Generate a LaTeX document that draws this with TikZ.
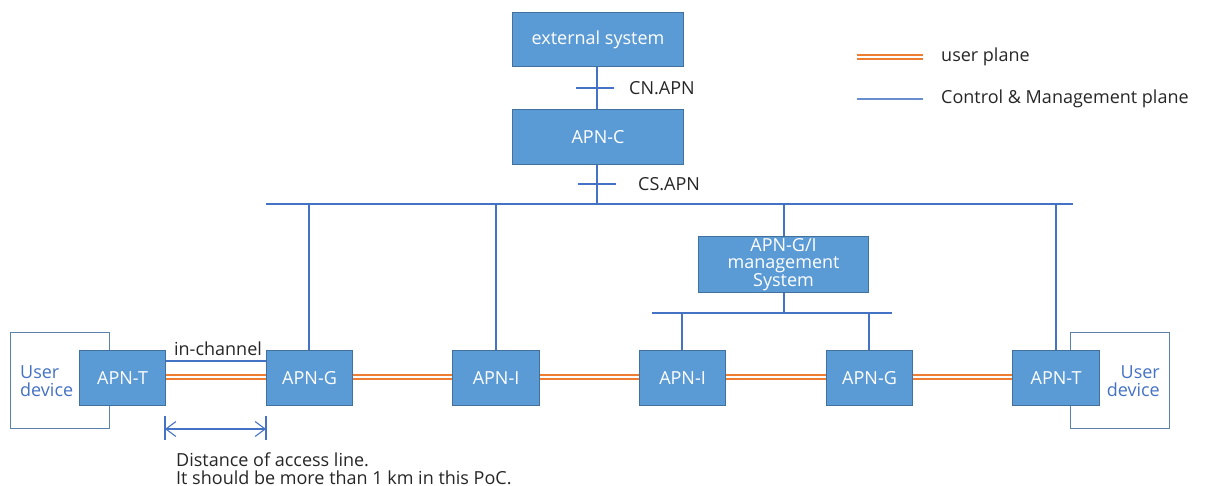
\documentclass[tikz,border=0pt]{standalone}
\usepackage{fontspec}
\setmainfont{Open Sans}
\usetikzlibrary{arrows.meta}
\definecolor{boxfill}{HTML}{5B9BD5}
\definecolor{boxline}{HTML}{41719C}
\definecolor{ctl}{HTML}{4472C4}
\definecolor{up}{HTML}{ED7D31}
\definecolor{devline}{HTML}{5A82AE}
\newcommand{\fs}{\fontsize{18}{21}\selectfont}
\begin{document}
\begin{tikzpicture}[x=1pt,y=-1pt,
  apn/.style={draw=boxline,fill=boxfill,line width=1.1pt,text=white,font=\fs,align=center,inner sep=0pt},
  ctlline/.style={draw=ctl,line width=1.1pt},
  upline/.style={draw=up,double=white,line width=2pt,double distance=2.6pt},
  lbl/.style={font=\fs,text=black!85,inner sep=0pt},
  dev/.style={draw=devline,line width=1.2pt,fill=white}]
\useasboundingbox (0,0) rectangle (1212,486);
% user device boxes (behind)
\node[dev,minimum width=99pt,minimum height=96pt,anchor=north west] (udl) at (10,332) {};
\node[dev,minimum width=99pt,minimum height=96pt,anchor=north west] (udr) at (1070,332) {};
\node[text=ctl,font=\fontsize{18}{18}\selectfont,align=left,anchor=west,inner sep=0pt] (udlt) at (20,381) {User\\device};
\node[text=ctl,font=\fontsize{18}{18}\selectfont,align=right,anchor=east,inner sep=0pt] (udrt) at (1160,381) {User\\device};
% top boxes
\node[apn,minimum width=171pt,minimum height=54pt,anchor=north west] (ext) at (512,12) {external system};
\node[apn,minimum width=171pt,minimum height=55pt,anchor=north west] (apnc) at (512,109) {APN-C};
\node[apn,minimum width=170pt,minimum height=56pt,anchor=north west,font=\fontsize{18}{17.5}\selectfont] (mgmt) at (698,236) {APN-G/I\\management\\System};
% bottom boxes
\node[apn,minimum width=86pt,minimum height=55pt,anchor=north west] (t1) at (79,350) {APN-T};
\node[apn,minimum width=86pt,minimum height=55pt,anchor=north west] (g1) at (266,350) {APN-G};
\node[apn,minimum width=87pt,minimum height=55pt,anchor=north west] (i1) at (452,350) {APN-I};
\node[apn,minimum width=86pt,minimum height=55pt,anchor=north west] (i2) at (639,350) {APN-I};
\node[apn,minimum width=86pt,minimum height=55pt,anchor=north west] (g2) at (826,350) {APN-G};
\node[apn,minimum width=87pt,minimum height=55pt,anchor=north west] (t2) at (1012,350) {APN-T};
% bus coordinates
\coordinate (busL) at (266,204);
\coordinate (busR) at (1073,204);
\coordinate (busC) at (597,204);
\coordinate (mbL) at (652,313);
\coordinate (mbR) at (892,313);
\coordinate (mbC) at (784,313);
% control lines
\draw[ctlline] (ext.south -| busC) -- (apnc.north -| busC);
\draw[ctlline] (apnc.south -| busC) -- (busC);
\draw[ctlline] (busL) -- (busR);
\draw[ctlline] (309,204) -- (g1.north -| 309,0);
\draw[ctlline] (496,204) -- (i1.north -| 496,0);
\draw[ctlline] (784,204) -- (mgmt.north -| 784,0);
\draw[ctlline] (1056,204) -- (t2.north -| 1056,0);
\draw[ctlline] (mgmt.south -| 784,0) -- (mbC);
\draw[ctlline] (mbL) -- (mbR);
\draw[ctlline] (682,313) -- (i2.north -| 682,0);
\draw[ctlline] (869,313) -- (g2.north -| 869,0);
% ticks
\coordinate (tk1a) at (576,88); \coordinate (tk1b) at (614,88);
\coordinate (tk2a) at (578,184); \coordinate (tk2b) at (616,184);
\draw[ctlline] (tk1a) -- (tk1b);
\draw[ctlline] (tk2a) -- (tk2b);
\node[lbl,anchor=west] (cn) at (629,88) {CN.APN};
\node[lbl,anchor=west] (cs) at (638,184) {CS.APN};
% in-channel
\draw[ctlline] (t1.east |- 0,361) -- (g1.west |- 0,361);
\node[lbl,anchor=base] (inch) at (218,355) {in-channel};
% user plane
\foreach \a/\b in {t1/g1,g1/i1,i1/i2,i2/g2,g2/t2}{
  \draw[upline] (\a.east |- 0,377) -- (\b.west |- 0,377);
}
% dimension
\coordinate (d1t) at (165,416); \coordinate (d1b) at (165,440);
\coordinate (d2t) at (266,416); \coordinate (d2b) at (266,440);
\draw[ctlline] (d1t) -- (d1b);
\draw[ctlline] (d2t) -- (d2b);
\draw[ctlline,{Straight Barb[length=10pt,width=15pt]}-{Straight Barb[length=10pt,width=15pt]}] (165,429) -- (266,429);
\node[lbl,anchor=base west] (dist1) at (176,466) {Distance of access line.};
\node[lbl,anchor=base west] (dist2) at (176,484) {It should be more than 1 km in this PoC.};
% legend
\coordinate (lg1a) at (857,57); \coordinate (lg1b) at (923,57);
\coordinate (lg2a) at (857,99); \coordinate (lg2b) at (923,99);
\draw[upline] (lg1a) -- (lg1b);
\draw[ctlline,draw=ctl!80] (lg2a) -- (lg2b);
\node[lbl,anchor=west] (lgt1) at (941,57) {user plane};
\node[lbl,anchor=west] (lgt2) at (941,99) {Control \& Management plane};
\end{tikzpicture}
\end{document}
